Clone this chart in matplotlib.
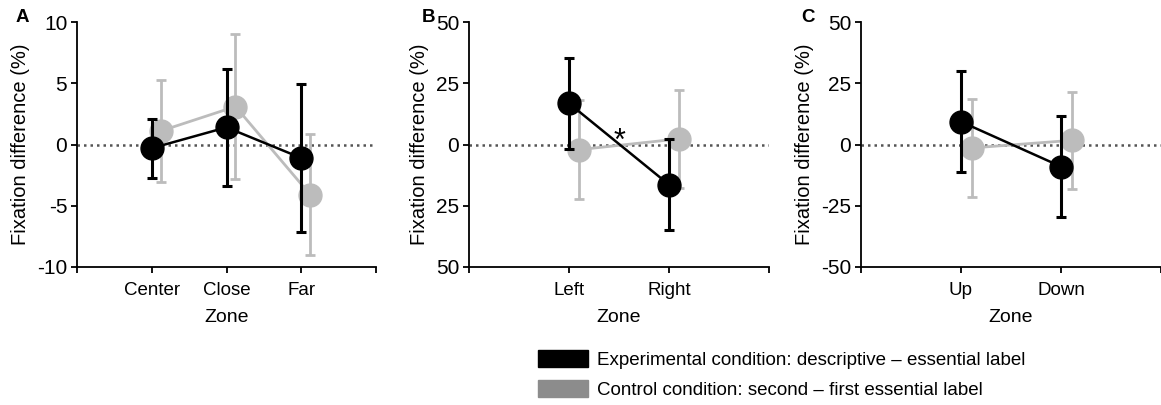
import matplotlib
matplotlib.use("Agg")
import matplotlib.pyplot as plt
from matplotlib.patches import Patch

plt.rcParams['font.family'] = ['Liberation Sans', 'DejaVu Sans']

# panel A: center / close / far
zones_a = ["Center", "Close", "Far"]
exp_a = [-0.3, 1.4, -1.1]
exp_a_err = [2.4, 4.8, 6.05]
ctl_a = [1.1, 3.1, -4.1]
ctl_a_err = [4.15, 5.95, 4.95]

# panel B: left / right
zones_b = ["Left", "Right"]
exp_b = [16.8, -16.4]
exp_b_err = [18.7, 18.7]
ctl_b = [-2.1, 2.3]
ctl_b_err = [20.2, 20.0]

# panel C: up / down
zones_c = ["Up", "Down"]
exp_c = [9.3, -9.0]
exp_c_err = [20.5, 20.6]
ctl_c = [-1.4, 1.7]
ctl_c_err = [20.0, 19.9]

yticks_a = [-10, -5, 0, 5, 10]
yticks_bc = [-50, -25, 0, 25, 50]
ylabels_b = ["50", "25", "0", "25", "50"]
ylabels_c = ["-50", "-25", "0", "25", "50"]

BLACK = "black"
GRAY = "#bcbcbc"
GRAY_LEG = "#8c8c8c"

fig = plt.figure(figsize=(11.61, 4.05), dpi=100)
W, H = 1161, 405


def add_ax(left, right):
    return fig.add_axes([left / W, 1 - 267 / H, (right - left) / W, (267 - 22) / H])


def draw(ax, zones, exp, exp_err, ctl, ctl_err, offset, xmax, ylim, yticks, ylabels):
    x = list(range(1, len(zones) + 1))
    xg = [v + offset for v in x]
    ax.axhline(0, color="#555555", ls=(0, (1, 1.6)), lw=1.8, zorder=1)
    ax.errorbar(xg, ctl, yerr=ctl_err, color=GRAY, lw=2, elinewidth=2, capsize=3.5,
                capthick=2, marker="o", ms=16.5, mec=GRAY, mfc=GRAY, zorder=2)
    ax.errorbar(x, exp, yerr=exp_err, color=BLACK, lw=1.8, elinewidth=2.2, capsize=3.5,
                capthick=2.2, marker="o", ms=16.5, zorder=3)
    ax.set_xlim(0, xmax)
    ax.set_ylim(*ylim)
    ax.set_xticks([0] + x + [xmax])
    ax.set_xticklabels([""] + zones + [""], fontsize=13.5)
    ax.set_yticks(yticks)
    ax.set_yticklabels(ylabels, fontsize=15)
    ax.spines["top"].set_visible(False)
    ax.spines["right"].set_visible(False)
    for s in ("left", "bottom"):
        ax.spines[s].set_linewidth(1.3)
    ax.tick_params(direction="out", width=1.3, length=4)
    ax.tick_params(axis="x", pad=7)
    ax.tick_params(axis="y", pad=3)
    ax.set_xlabel("Zone", fontsize=14, labelpad=7)
    ax.set_ylabel("Fixation difference (%)", fontsize=14.5, labelpad=5)


ax_a = add_ax(77, 376)
draw(ax_a, zones_a, exp_a, exp_a_err, ctl_a, ctl_a_err, 0.12, 4, (-10, 10),
     yticks_a, [str(v) for v in yticks_a])

ax_b = add_ax(469, 769)
draw(ax_b, zones_b, exp_b, exp_b_err, ctl_b, ctl_b_err, 0.1, 3, (-50, 50),
     yticks_bc, ylabels_b)
ax_b.text(1.5, 1, "*", fontsize=22, ha="center", va="center")

ax_c = add_ax(861, 1161)
draw(ax_c, zones_c, exp_c, exp_c_err, ctl_c, ctl_c_err, 0.11, 3, (-50, 50),
     yticks_bc, ylabels_c)

for lbl, px in (("A", 16), ("B", 422), ("C", 801)):
    fig.text(px / W, 1 - 17 / H, lbl, fontsize=13.5, fontweight="bold", va="center", ha="left")

handles = [Patch(color=BLACK), Patch(color=GRAY_LEG)]
labels = ["Experimental condition: descriptive \u2013 essential label",
          "Control condition: second \u2013 first essential label"]
fig.legend(handles, labels, loc="upper left", bbox_to_anchor=(538 / W, 1 - 350 / H),
           frameon=False, borderpad=0, borderaxespad=0, handlelength=2.67, handleheight=1.0,
           handletextpad=0.5, labelspacing=0.6, prop={"size": 13.5})

fig.savefig("out.png", dpi=100)
